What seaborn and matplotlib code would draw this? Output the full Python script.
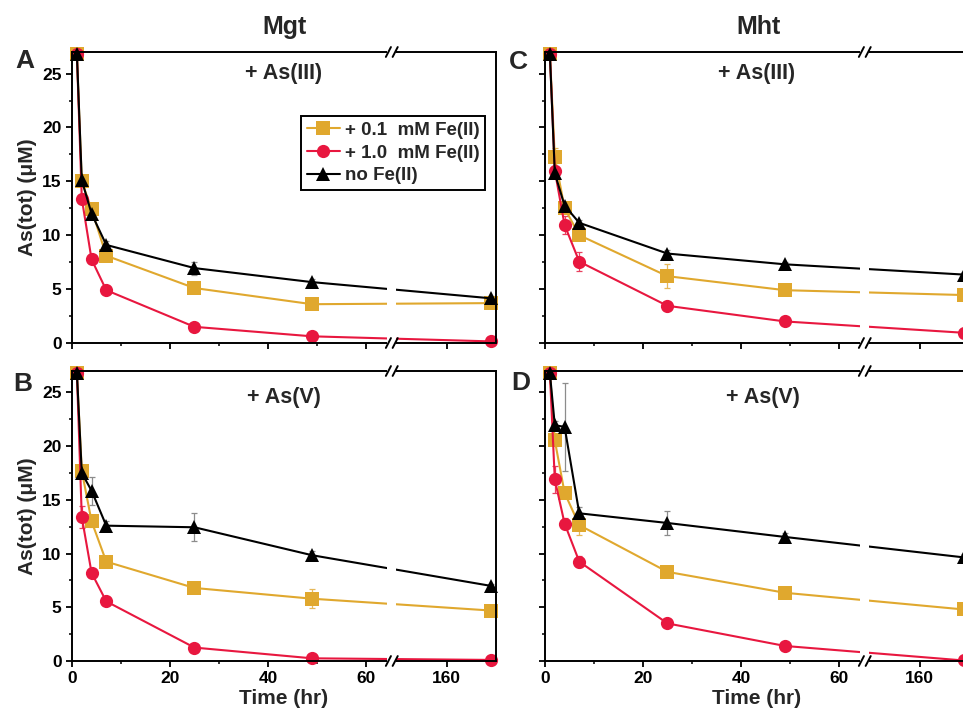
import numpy as np
import pandas as pd
import seaborn as sns
import matplotlib.pyplot as plt
from matplotlib.patches import Rectangle
from matplotlib.ticker import FixedLocator

# ======================
# DATA
# ======================

time = [1, 2, 4, 7, 25, 49, 168]
series = ["+ 0.1  mM Fe(II)", "+ 1.0  mM Fe(II)", "no Fe(II)"]
colors = ["#E0A82E", "#E8173F", "#000000"]
err_colors = ["#E6B85A", "#E8405F", "#8C8C8C"]

# A: Mgt + As(III)
a_gold = [26.8, 15.0, 12.4, 8.1, 5.1, 3.6, 3.7]
a_red = [26.8, 13.4, 7.75, 4.9, 1.5, 0.62, 0.15]
a_black = [26.8, 15.1, 12.0, 9.1, 6.95, 5.65, 4.15]
a_gold_err = [0.0, 0.3, 0.4, 0.5, 0.3, 0.2, 0.2]
a_red_err = [0.0, 0.3, 0.3, 0.3, 0.2, 0.1, 0.1]
a_black_err = [0.0, 0.2, 0.3, 0.4, 0.6, 0.3, 0.2]

# B: Mgt + As(V)
b_gold = [26.8, 17.7, 13.0, 9.25, 6.8, 5.8, 4.7]
b_red = [26.8, 13.4, 8.2, 5.55, 1.25, 0.25, 0.1]
b_black = [26.8, 17.5, 15.85, 12.6, 12.45, 9.85, 7.0]
b_gold_err = [0.0, 0.4, 0.5, 0.3, 0.3, 0.9, 0.2]
b_red_err = [0.0, 1.0, 0.3, 0.3, 0.2, 0.1, 0.1]
b_black_err = [0.0, 0.3, 1.3, 0.4, 1.3, 0.4, 0.2]

# C: Mht + As(III)
c_gold = [26.8, 17.25, 12.5, 10.0, 6.2, 4.9, 4.45]
c_red = [26.8, 16.0, 10.95, 7.55, 3.45, 2.0, 0.95]
c_black = [26.8, 15.75, 12.75, 11.15, 8.3, 7.3, 6.35]
c_gold_err = [0.0, 0.8, 0.4, 0.4, 1.1, 0.3, 0.3]
c_red_err = [0.0, 0.4, 0.8, 0.9, 0.3, 0.2, 0.2]
c_black_err = [0.0, 0.3, 0.3, 0.3, 0.3, 0.2, 0.2]

# D: Mht + As(V)
d_gold = [26.8, 20.55, 15.65, 12.65, 8.3, 6.35, 4.8]
d_red = [26.8, 16.9, 12.8, 9.25, 3.5, 1.4, 0.05]
d_black = [26.8, 21.95, 21.8, 13.75, 12.85, 11.55, 9.65]
d_gold_err = [0.0, 0.5, 0.5, 0.9, 0.3, 0.3, 0.3]
d_red_err = [0.0, 1.3, 0.5, 0.5, 0.3, 0.2, 0.1]
d_black_err = [0.0, 0.4, 4.1, 0.6, 1.1, 0.4, 0.3]

panels = [
    ("A", "+ As(III)", [a_gold, a_red, a_black], [a_gold_err, a_red_err, a_black_err]),
    ("B", "+ As(V)", [b_gold, b_red, b_black], [b_gold_err, b_red_err, b_black_err]),
    ("C", "+ As(III)", [c_gold, c_red, c_black], [c_gold_err, c_red_err, c_black_err]),
    ("D", "+ As(V)", [d_gold, d_red, d_black], [d_gold_err, d_red_err, d_black_err]),
]

# ======================
# BROKEN X SCALE (0-65 | 150-169)
# ======================

BRK = 65.3
R0 = 150.0
K = 1.12


def fwd(x):
    x = np.asarray(x, dtype=float)
    return np.where(x <= BRK, x, np.where(x >= R0, BRK + (x - R0) * K, BRK))


def inv(y):
    y = np.asarray(y, dtype=float)
    return np.where(y <= BRK, y, R0 + (y - BRK) / K)


XMAX = 169
brk_frac = BRK / float(fwd(XMAX))

# ======================
# STYLE
# ======================

sns.set_theme(style="ticks")
plt.rcParams['font.family'] = ['Liberation Sans', 'DejaVu Sans']
plt.rcParams['font.weight'] = 'bold'
plt.rcParams['axes.labelweight'] = 'bold'
plt.rcParams['axes.linewidth'] = 1.4
plt.rcParams['xtick.major.width'] = 1.3
plt.rcParams['ytick.major.width'] = 1.3
plt.rcParams['xtick.minor.width'] = 1.1
plt.rcParams['ytick.minor.width'] = 1.1
plt.rcParams['xtick.major.size'] = 4.5
plt.rcParams['ytick.major.size'] = 4.5
plt.rcParams['xtick.minor.size'] = 2.5
plt.rcParams['ytick.minor.size'] = 2.5
plt.rcParams['xtick.color'] = 'black'
plt.rcParams['ytick.color'] = 'black'
plt.rcParams['axes.edgecolor'] = 'black'

fig = plt.figure(figsize=(9.63, 7.16), dpi=100)

W, H = 963, 716
boxes = {
    "A": (72, 52, 424, 291),
    "B": (72, 371, 424, 290),
    "C": (545, 52, 424, 291),
    "D": (545, 371, 424, 290),
}

for letter, tag, ys, errs in panels:
    left, top, w, h = boxes[letter]
    ax = fig.add_axes([left / W, 1 - (top + h) / H, w / W, h / H])
    ax.set_xscale('function', functions=(fwd, inv))

    rows = []
    for name, vals in zip(series, ys):
        for t, v in zip(time, vals):
            rows.append({"time": t, "conc": v, "cond": name})
    df = pd.DataFrame(rows)

    for k in range(3):
        ax.errorbar(time, ys[k], yerr=errs[k], fmt='none', ecolor=err_colors[k],
                    elinewidth=0.9, capsize=2.5, capthick=0.9, zorder=1)

    sns.lineplot(
        data=df, x="time", y="conc", hue="cond", style="cond",
        hue_order=series, style_order=series,
        palette=colors, markers=['s', 'o', '^'], dashes=False,
        markersize=9.5, markeredgewidth=0, linewidth=1.5,
        errorbar=None, sort=True, ax=ax, legend=(letter == "A"),
    )
    for ln in ax.lines:
        ln.set_clip_on(False)

    ax.set_xlim(0, XMAX)
    ax.set_ylim(0, 27)
    ax.xaxis.set_major_locator(FixedLocator([0, 20, 40, 60, 160]))
    ax.xaxis.set_minor_locator(FixedLocator([10, 30, 50]))
    ax.set_yticks([0, 5, 10, 15, 20, 25])
    ax.yaxis.set_minor_locator(FixedLocator([2.5, 7.5, 12.5, 17.5, 22.5]))
    ax.tick_params(axis='both', which='both', direction='out', top=False, right=False)
    ax.tick_params(axis='both', which='major', labelsize=12.5, pad=3)
    for lab in ax.get_xticklabels() + ax.get_yticklabels():
        lab.set_fontweight('bold')

    if letter in ("A", "B"):
        ax.set_ylabel("As(tot) (μM)", fontsize=15, fontweight='bold', labelpad=4)
    else:
        ax.set_ylabel("")
        ax.tick_params(axis='y', labelleft=False)
    if letter in ("B", "D"):
        ax.set_xlabel("Time (hr)", fontsize=15, fontweight='bold', labelpad=2)
    else:
        ax.set_xlabel("")
        ax.tick_params(axis='x', labelbottom=False)

    # break gap and // marks
    ax.add_patch(Rectangle((brk_frac - 0.012, -0.01), 0.022, 1.02, transform=ax.transAxes,
                           facecolor='white', edgecolor='none', zorder=3, clip_on=False))
    for yy in (0, 1):
        for dx in (-0.008, 0.008):
            xc = brk_frac + dx
            ax.plot([xc - 0.006, xc + 0.006], [yy - 0.017, yy + 0.017], transform=ax.transAxes,
                    color='black', lw=1.4, clip_on=False, zorder=4)

    ax.text(0.5 if letter != "D" else 0.515, 0.925 if tag == "+ As(III)" else 0.91, tag,
            transform=ax.transAxes, ha='center', va='center', fontsize=15.5, fontweight='bold')

    if letter == "A":
        handles, labels = ax.get_legend_handles_labels()
        leg = ax.legend(handles, labels, loc='upper right', bbox_to_anchor=(0.975, 0.78),
                        fontsize=13.5, frameon=True, fancybox=False, framealpha=1,
                        edgecolor='black', handlelength=1.75, handletextpad=0.3,
                        labelspacing=0.3, borderpad=0.3, borderaxespad=0)
        leg.get_frame().set_linewidth(1.4)
        for t in leg.get_texts():
            t.set_fontweight('bold')
        for hd in leg.legend_handles:
            hd.set_markersize(9.5)
            hd.set_markeredgewidth(0)

# panel letters and column titles
letter_pos = {"A": (25, 61), "B": (23, 384), "C": (518, 62), "D": (521, 383)}
for letter, (px, py) in letter_pos.items():
    fig.text(px / W, 1 - py / H, letter, ha='center', va='center', fontsize=19, fontweight='bold')

fig.text(285 / W, 1 - 27 / H, "Mgt", ha='center', va='center', fontsize=18, fontweight='bold')
fig.text(758 / W, 1 - 27 / H, "Mht", ha='center', va='center', fontsize=18, fontweight='bold')

plt.savefig("out.png", dpi=100)
